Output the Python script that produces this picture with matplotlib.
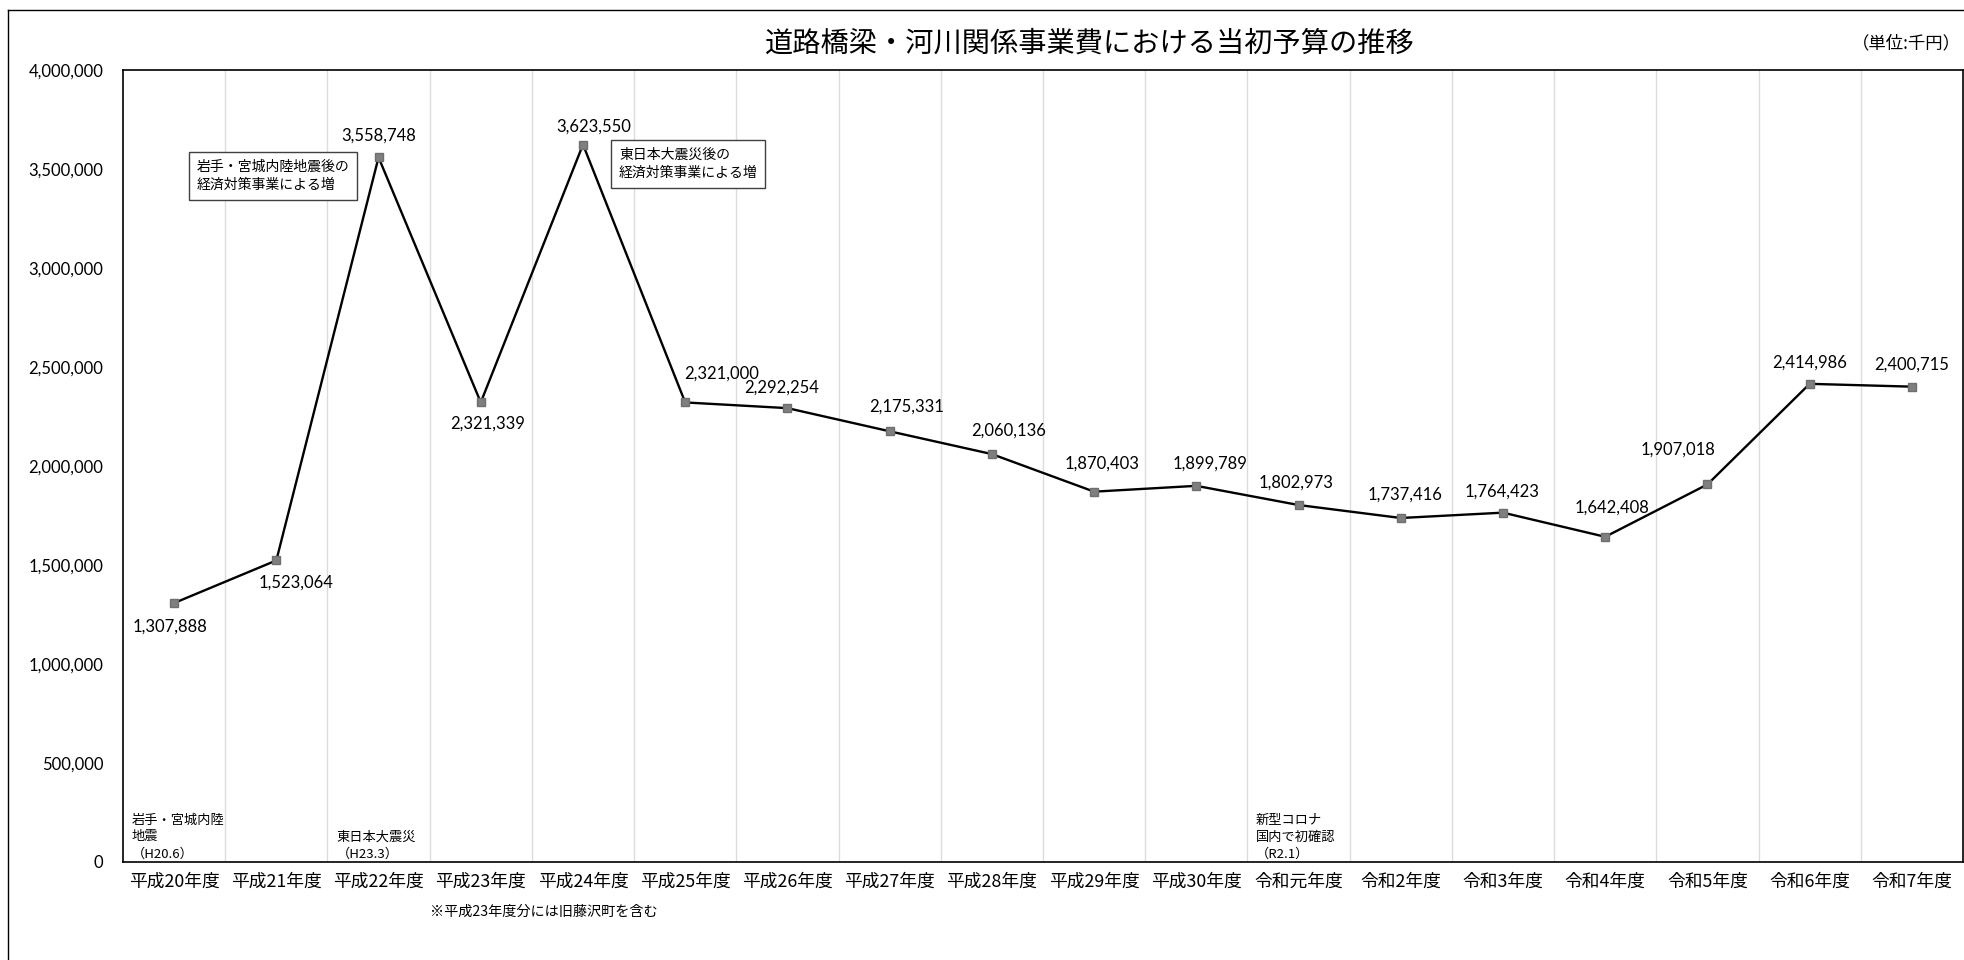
import matplotlib
matplotlib.use("agg")
from matplotlib import pyplot as plt
from matplotlib.lines import Line2D
import numpy as np

plt.rcParams["font.family"] = ["Noto Sans CJK JP", "DejaVu Sans"]

years = [
    "平成20年度", "平成21年度", "平成22年度", "平成23年度", "平成24年度", "平成25年度",
    "平成26年度", "平成27年度", "平成28年度", "平成29年度", "平成30年度", "令和元年度",
    "令和2年度", "令和3年度", "令和4年度", "令和5年度", "令和6年度", "令和7年度",
]
budget = [
    1307888, 1523064, 3558748, 2321339, 3623550, 2321000,
    2292254, 2175331, 2060136, 1870403, 1899789, 1802973,
    1737416, 1764423, 1642408, 1907018, 2414986, 2400715,
]
# label offsets in points (dx, dy)
label_offsets = [
    (-3, -17), (14, -16), (0, 16), (5, -15), (8, 13), (26, 21),
    (-4, 15), (12, 18), (12, 17), (6, 20), (10, 16), (-2, 16),
    (3, 17), (-1, 15), (5, 21), (-21, 25), (0, 15), (0, 16),
]

title = "道路橋梁・河川関係事業費における当初予算の推移"
unit = "（単位:千円）"
note = "※平成23年度分には旧藤沢町を含む"

fig = plt.figure(figsize=(19.64, 9.6), dpi=100)
ax = fig.add_axes([123 / 1964, 1 - 862 / 960, 1840 / 1964, 792 / 960])

x = np.arange(len(years))
ax.plot(x, budget, color="black", lw=1.7, zorder=3)
ax.plot(x, budget, ls="none", marker="s", ms=5.5, mfc="#7f7f7f", mec="#6f6f6f", zorder=4)

for xi, v, (dx, dy) in zip(x, budget, label_offsets):
    ax.annotate(f"{v:,}", (xi, v), xytext=(dx, dy), textcoords="offset points",
                ha="center", va="center", fontsize=12, family=["Lato", "DejaVu Sans"])

ax.set_xlim(-0.5, len(years) - 0.5)
ax.set_ylim(0, 4000000)
ax.set_yticks(np.arange(0, 4000001, 500000))
ax.yaxis.set_major_formatter(lambda v, _: f"{int(v):,}")
ax.set_xticks(x)
ax.set_xticklabels(years, fontsize=12.8)
ax.set_xticks(np.arange(0.5, len(years) - 1, 1), minor=True)
ax.grid(which="minor", axis="x", color="#dcdcdc", lw=1)
ax.tick_params(which="both", length=0)
ax.tick_params(axis="y", pad=14, labelsize=12)
ax.tick_params(axis="x", pad=8)
for lbl in ax.get_yticklabels():
    lbl.set_family(["Lato", "DejaVu Sans"])
for sp in ax.spines.values():
    sp.set_linewidth(1.2)

box = dict(boxstyle="square,pad=0.55", fc="white", ec="#404040", lw=1)
ax.text(0.224, 3464646, "岩手・宮城内陸地震後の\n経済対策事業による増", fontsize=10,
        ha="left", va="center", linespacing=1.35, bbox=box, zorder=5)
ax.text(4.353, 3525253, "東日本大震災後の\n経済対策事業による増", fontsize=10,
        ha="left", va="center", linespacing=1.35, bbox=box, zorder=5)

ax.text(-0.412, 8000, "岩手・宮城内陸\n地震\n（H20.6）", fontsize=9.5,
        ha="left", va="bottom", linespacing=1.4)
ax.text(1.59, 8000, "東日本大震災\n（H23.3）", fontsize=9.5,
        ha="left", va="bottom", linespacing=1.4)
ax.text(10.58, 8000, "新型コロナ\n国内で初確認\n（R2.1）", fontsize=9.5,
        ha="left", va="bottom", linespacing=1.4)

fig.text(1090 / 1964, 1 - 44 / 960, title, fontsize=20.3, ha="center", va="center")
fig.text(1961 / 1964, 1 - 43 / 960, unit, fontsize=12.5, ha="right", va="center")
fig.text(430 / 1964, 1 - 912 / 960, note, fontsize=10.2, ha="left", va="center")

# outer frame (only top and left edges are visible)
fig.add_artist(Line2D([8 / 1964, 8 / 1964], [0, 1 - 10 / 960], color="black", lw=1))
fig.add_artist(Line2D([8 / 1964, 1], [1 - 10 / 960, 1 - 10 / 960], color="black", lw=1))

fig.savefig("out.png", dpi=100)
